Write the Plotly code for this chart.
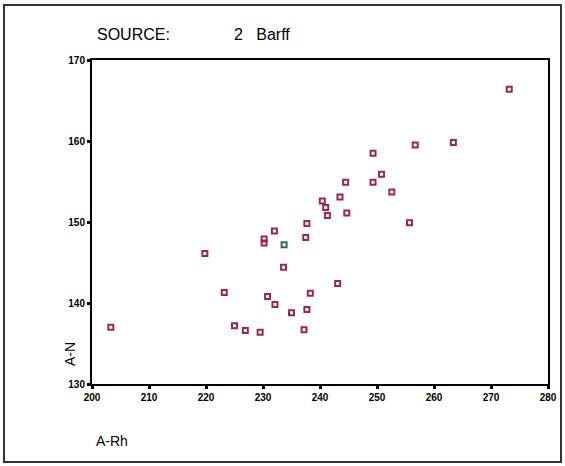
import plotly.graph_objects as go

# Source 2 (Barff): A-Rh vs A-N
a_rh = [203.3, 219.8, 223.2, 225.0, 226.9, 229.5, 230.2, 230.2, 230.8, 232.1,
        232.0, 233.6, 235.0, 237.2, 237.7, 238.3, 237.5, 237.7, 240.4, 241.0,
        241.3, 243.1, 243.5, 244.5, 244.7, 249.3, 249.3, 250.8, 252.6, 255.7,
        256.7, 263.4, 273.2]
a_n = [137.0, 146.1, 141.3, 137.2, 136.6, 136.4, 147.9, 147.4, 140.8, 139.8,
       148.9, 144.4, 138.8, 136.7, 139.2, 141.2, 148.1, 149.8, 152.6, 151.8,
       150.8, 142.4, 153.1, 154.9, 151.1, 154.9, 158.5, 155.9, 153.7, 149.9,
       159.5, 159.8, 166.4]
# single highlighted (green) case
g_rh = [233.7]
g_n = [147.2]

x_ticks = [200, 210, 220, 230, 240, 250, 260, 270, 280]
y_ticks = [130, 140, 150, 160, 170]

W, H = 565, 466
L, R, T, B = 92, 17, 60, 82
pw, ph = W - L - R, H - T - B

def px(x):
    return (x - L) / pw

def py(y):
    return (H - B - y) / ph

fig = go.Figure()
fig.add_trace(go.Scatter(
    x=a_rh, y=a_n, mode="markers",
    marker=dict(symbol="square-open", size=5, color="#a02452",
                line=dict(width=2, color="#a02452")),
    showlegend=False, hoverinfo="x+y"))
fig.add_trace(go.Scatter(
    x=g_rh, y=g_n, mode="markers",
    marker=dict(symbol="square-open", size=5, color="#2f6f55",
                line=dict(width=2, color="#2f6f55")),
    showlegend=False, hoverinfo="x+y"))

axis_common = dict(showgrid=False, zeroline=False, showline=True,
                   linecolor="black", linewidth=2, mirror=True,
                   ticks="outside", ticklen=3, tickwidth=3, tickcolor="black",
                   tickfont=dict(family="Arial, Liberation Sans", size=10, color="black",
                                 weight="bold"))

fig.update_xaxes(range=[200, 280], tickvals=x_ticks, **axis_common)
fig.update_yaxes(range=[130, 170], tickvals=y_ticks, **axis_common)

font = "Arial, Liberation Sans"
fig.update_layout(
    width=W, height=H,
    margin=dict(l=L, r=R, t=T, b=B, autoexpand=False),
    paper_bgcolor="white", plot_bgcolor="white",
    annotations=[
        dict(text="SOURCE:", x=px(95), y=py(34), xref="paper", yref="paper",
             xanchor="left", yanchor="middle", showarrow=False,
             font=dict(family=font, size=16, color="black")),
        dict(text="2&nbsp;&nbsp;&nbsp;Barff", x=px(232), y=py(34), xref="paper", yref="paper",
             xanchor="left", yanchor="middle", showarrow=False,
             font=dict(family=font, size=16, color="black")),
        dict(text="A-N", x=px(70), y=py(354), xref="paper", yref="paper",
             xanchor="center", yanchor="middle", showarrow=False, textangle=-90,
             font=dict(family=font, size=14, color="black")),
        dict(text="A-Rh", x=px(94), y=py(441), xref="paper", yref="paper",
             xanchor="left", yanchor="middle", showarrow=False,
             font=dict(family=font, size=14, color="black")),
    ],
    shapes=[
        dict(type="rect", xref="paper", yref="paper",
             x0=px(4), x1=px(561), y0=py(462), y1=py(5),
             line=dict(color="#333333", width=2), fillcolor="rgba(0,0,0,0)", layer="below"),
    ],
)

fig.write_html("out.html", config={"displayModeBar": False},
               post_script="document.body.style.margin='0';document.body.style.padding='0';")
